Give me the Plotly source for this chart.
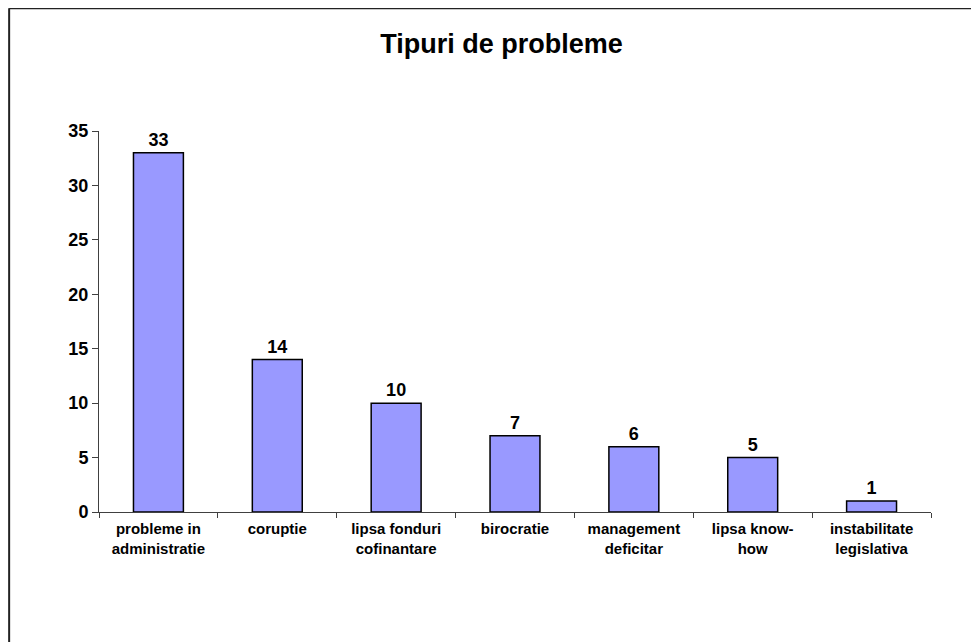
import plotly.graph_objects as go

# data
categories = [
    "probleme in<br>administratie",
    "coruptie",
    "lipsa fonduri<br>cofinantare",
    "birocratie",
    "management<br>deficitar",
    "lipsa know-<br>how",
    "instabilitate<br>legislativa",
]
values = [33, 14, 10, 7, 6, 5, 1]
y_ticks = [0, 5, 10, 15, 20, 25, 30, 35]

font_family = "Arial, Liberation Sans, sans-serif"

fig = go.Figure()

fig.add_trace(go.Bar(
    x=categories,
    y=values,
    marker=dict(color="#9999FF", line=dict(color="black", width=1.5)),
    text=values,
    texttemplate="<b>%{text}</b>",
    textposition="outside",
    textfont=dict(family=font_family, size=18, color="black"),
    cliponaxis=False,
    width=0.42,
))

fig.update_layout(
    width=979,
    height=642,
    paper_bgcolor="white",
    plot_bgcolor="white",
    showlegend=False,
    margin=dict(l=91, r=56, t=123, b=138),
    title=dict(
        text="<b>Tipuri de probleme</b>",
        x=0.504, xanchor="center",
        y=0.944, yanchor="middle",
        font=dict(family=font_family, size=27, color="black"),
    ),
    font=dict(family=font_family, color="black"),
    xaxis=dict(
        tickvals=categories,
        ticktext=["<b>" + c + "</b>" for c in categories],
        showgrid=False,
        zeroline=False,
        showline=True,
        linecolor="#404040",
        linewidth=1,
        ticks="outside",
        tickson="boundaries",
        ticklen=5,
        tickcolor="#404040",
        ticklabelstandoff=3,
        tickfont=dict(family=font_family, size=15, color="black"),
    ),
    yaxis=dict(
        range=[0, 35],
        tickvals=y_ticks,
        ticktext=["<b>" + str(t) + "</b>" for t in y_ticks],
        showgrid=False,
        zeroline=False,
        showline=True,
        linecolor="#404040",
        linewidth=1,
        ticks="outside",
        ticklen=6,
        tickcolor="#404040",
        tickfont=dict(family=font_family, size=18, color="black"),
    ),
    bargap=0.58,
)

# outer chart border (only top and left edges are inside the window)
fig.add_shape(type="line", xref="paper", yref="paper",
              x0=-0.108, x1=1.2, y0=1.322, y1=1.322,
              line=dict(color="#222222", width=2))
fig.add_shape(type="line", xref="paper", yref="paper",
              x0=-0.108, x1=-0.108, y0=1.322, y1=-0.4,
              line=dict(color="#222222", width=2))

fig.write_html("out.html")
